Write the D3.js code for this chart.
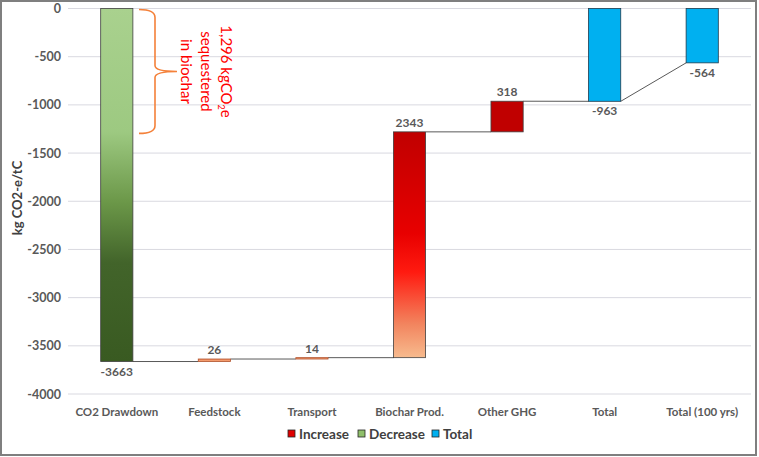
<!DOCTYPE html>
<html>
<head>
<meta charset="utf-8">
<script src="https://cdn.jsdelivr.net/npm/d3@7"></script>
<style>
  body { margin: 0; background: #fff; }
  text { font-family: Lato, "Open Sans", sans-serif; }
</style>
</head>
<body>
<script>
const categories = ["CO2 Drawdown", "Feedstock", "Transport", "Biochar Prod.", "Other GHG", "Total", "Total (100 yrs)"];
const values = [-3663, 26, 14, 2343, 318, -963, -564];
const kinds = ["decrease", "increase", "increase", "increase", "increase", "total", "total"];
const yTicks = [0, -500, -1000, -1500, -2000, -2500, -3000, -3500, -4000];
const legendItems = ["Increase", "Decrease", "Total"];

const W = 759, H = 457;
const svg = d3.select("body").append("svg").attr("width", W).attr("height", H);

const defs = svg.append("defs");
const grad = (id, stops) => {
  const g = defs.append("linearGradient").attr("id", id)
    .attr("x1", 0).attr("y1", 0).attr("x2", 0).attr("y2", 1);
  stops.forEach(s => g.append("stop").attr("offset", s[0]).attr("stop-color", s[1]));
};
grad("gDec", [[0, "#a9d18e"], [0.35, "#9dc981"], [0.55, "#6b9748"], [0.72, "#42642a"], [1, "#395a21"]]);
grad("gInc", [[0, "#c00000"], [0.45, "#e80000"], [0.62, "#ff1a10"], [0.85, "#f2845e"], [1, "#f7bb8e"]]);
grad("gFeed", [[0, "#f08a5c"], [1, "#f6a77a"]]);

// frame
svg.append("rect").attr("x", 1).attr("y", 1).attr("width", 755).attr("height", 454)
  .attr("fill", "none").attr("stroke", "#7f7f7f").attr("stroke-width", 2);

const x = d3.scaleBand().domain(categories).range([68, 751]).paddingInner(0.67).paddingOuter(0.335);
const y = d3.scaleLinear().domain([-4000, 0]).range([394, 8.5]);

// grid
svg.append("g").selectAll("line").data(yTicks).join("line")
  .attr("x1", 68).attr("x2", 751)
  .attr("y1", d => y(d)).attr("y2", d => y(d))
  .attr("stroke", "#d9d9e0").attr("stroke-width", 1);

// y axis labels
const yAxis = d3.axisLeft(y).tickValues(yTicks).tickSize(0).tickPadding(7).tickFormat(d => String(d));
const ya = svg.append("g").attr("transform", "translate(68,0)").call(yAxis);
ya.select(".domain").remove();
ya.selectAll("text").attr("font-family", "Lato, sans-serif").attr("font-size", 12.5)
  .attr("font-weight", "bold").attr("fill", "#595959");

svg.append("text").attr("transform", "translate(22,198) rotate(-90)")
  .attr("text-anchor", "middle").attr("font-size", 13).attr("font-weight", "bold")
  .attr("fill", "#404040").text("kg CO2-e/tC");

// x axis labels
const xAxis = d3.axisBottom(x).tickSize(0).tickPadding(14);
const xa = svg.append("g").attr("transform", "translate(0,394)").call(xAxis);
xa.select(".domain").remove();
xa.selectAll("text").attr("font-family", "Lato, sans-serif").attr("font-size", 11.5)
  .attr("font-weight", "bold").attr("fill", "#595959");

// waterfall geometry
let run = 0;
const bars = values.map((v, i) => {
  let start, end;
  if (kinds[i] === "total") { start = 0; end = v; }
  else { start = run; end = run + v; }
  run = end;
  return { cat: categories[i], v, kind: kinds[i], start, end };
});

// connectors
const conn = svg.append("g").attr("stroke", "#595959").attr("stroke-width", 1);
for (let i = 0; i < bars.length - 1; i++) {
  const a = bars[i], b = bars[i + 1];
  const yA = y(a.end);
  const yB = b.kind === "total" ? y(b.end) : y(b.start);
  conn.append("line")
    .attr("x1", x(a.cat) + x.bandwidth()).attr("x2", x(b.cat))
    .attr("y1", yA).attr("y2", yB);
}

const fillFor = (d, i) => {
  if (d.kind === "decrease") return "url(#gDec)";
  if (d.kind === "total") return "#00b0f0";
  if (i === 1 || i === 2) return "url(#gFeed)";
  if (i === 4) return "#c00000";
  return "url(#gInc)";
};

svg.append("g").selectAll("rect").data(bars).join("rect")
  .attr("x", d => x(d.cat)).attr("width", x.bandwidth())
  .attr("y", d => y(Math.max(d.start, d.end)))
  .attr("height", d => Math.max(1, Math.abs(y(d.start) - y(d.end))))
  .attr("fill", fillFor)
  .attr("stroke", (d, i) => d.kind === "total" ? "#1f3b4d" : (i === 1 || i === 2 ? "#b0502a" : "#404040"))
  .attr("stroke-width", 0.8);

// value labels
svg.append("g").selectAll("text").data(bars).join("text")
  .attr("x", d => x(d.cat) + x.bandwidth() / 2)
  .attr("y", d => d.v > 0 ? y(Math.max(d.start, d.end)) - 5 : y(Math.min(d.start, d.end)) + 14)
  .attr("text-anchor", "middle").attr("font-size", 12).attr("font-weight", "bold")
  .attr("fill", "#595959")
  .text(d => d.v);

// brace annotation
const bx = 139, bTop = y(0) + 1, bBot = y(-1296), bMid = (bTop + bBot) / 2, bvx = 155, btip = 177;
svg.append("path")
  .attr("d", `M${bx},${bTop} Q${bvx},${bTop} ${bvx},${bTop + 8} L${bvx},${bMid - 6} Q${bvx},${bMid} ${btip},${bMid} Q${bvx},${bMid} ${bvx},${bMid + 6} L${bvx},${bBot - 8} Q${bvx},${bBot} ${bx},${bBot}`)
  .attr("fill", "none").attr("stroke", "#f4813a").attr("stroke-width", 1.6);

const ann = svg.append("g").attr("transform", `translate(0,${bMid})`).attr("fill", "#ff0000").attr("font-size", 15);
const l1 = ann.append("text").attr("transform", "translate(221,0) rotate(90)").attr("text-anchor", "middle");
l1.append("tspan").text("1,296 kgCO");
l1.append("tspan").attr("font-size", 9).attr("dy", 3).text("2");
l1.append("tspan").attr("dy", -3).text("e");
ann.append("text").attr("transform", "translate(201,0) rotate(90)").attr("text-anchor", "middle").text("sequestered");
ann.append("text").attr("transform", "translate(181,0) rotate(90)").attr("text-anchor", "middle").text("in biochar");

// legend
const legColors = ["#e00000", "#8fbf6a", "#00b0f0"];
const legX = [288, 358, 432];
const leg = svg.append("g");
legendItems.forEach((t, i) => {
  leg.append("rect").attr("x", legX[i]).attr("y", 430).attr("width", 7).attr("height", 7)
    .attr("fill", legColors[i]).attr("stroke", "#262626").attr("stroke-width", 0.8);
  leg.append("text").attr("x", legX[i] + 11).attr("y", 439).attr("font-size", 13.5)
    .attr("font-weight", "bold").attr("fill", "#404040").text(t);
});
</script>
</body>
</html>
